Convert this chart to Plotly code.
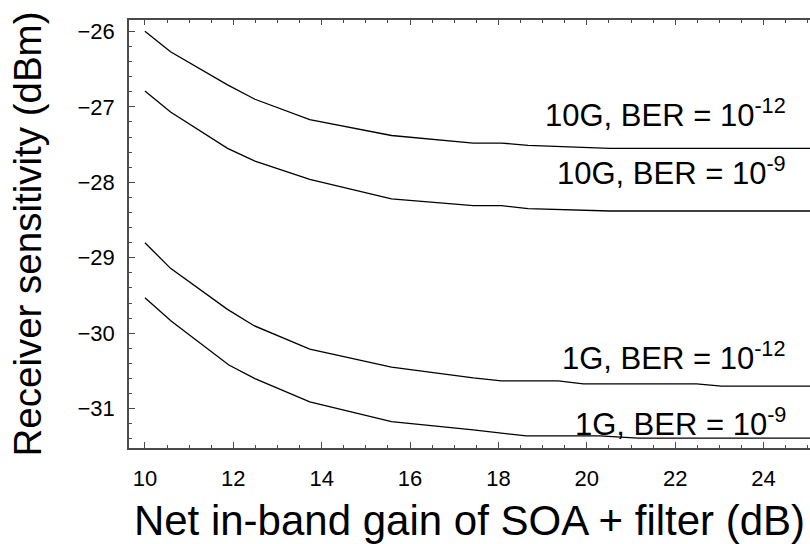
import plotly.graph_objects as go

# ---- data ----
x_10g = [10, 10.58, 11.87, 12.49, 13.73, 15.58, 17.43, 18.07, 18.67, 20.52, 25.05]
y_10g_ber12 = [-26.0, -26.27, -26.71, -26.90, -27.17, -27.38, -27.48, -27.48, -27.51, -27.55, -27.55]
y_10g_ber9 = [-26.79, -27.07, -27.55, -27.72, -27.96, -28.22, -28.31, -28.31, -28.35, -28.38, -28.38]

x_1g_ber12 = [10, 10.58, 11.86, 12.47, 13.73, 15.58, 17.43, 18.07, 19.35, 19.92, 22.48, 23.05, 25.05]
y_1g_ber12 = [-28.80, -29.14, -29.68, -29.90, -30.21, -30.45, -30.59, -30.63, -30.63, -30.67, -30.67, -30.70, -30.70]

x_1g_ber9 = [10, 10.6, 11.9, 12.49, 13.73, 15.58, 17.43, 18.63, 20.29, 21.16, 25.05]
y_1g_ber9 = [-29.53, -29.84, -30.42, -30.60, -30.91, -31.17, -31.28, -31.36, -31.36, -31.39, -31.39]

labels = ["10G, BER = 10<sup>-12</sup>", "10G, BER = 10<sup>-9</sup>",
          "1G, BER = 10<sup>-12</sup>", "1G, BER = 10<sup>-9</sup>"]
label_y = [-27.08, -27.85, -30.30, -31.17]
label_x = 24.55

x_ticks = [10, 12, 14, 16, 18, 20, 22, 24]
y_ticks = [-26, -27, -28, -29, -30, -31]

FONT = "Liberation Sans, Arial, sans-serif"
AXC = "#4a4a4a"

fig = go.Figure()
for xs, ys in [(x_10g, y_10g_ber12), (x_10g, y_10g_ber9),
               (x_1g_ber12, y_1g_ber12), (x_1g_ber9, y_1g_ber9)]:
    fig.add_trace(go.Scatter(x=xs, y=ys, mode="lines",
                             line=dict(color="black", width=1.3),
                             showlegend=False, hoverinfo="skip"))

for t, yy in zip(labels, label_y):
    fig.add_annotation(x=label_x, y=yy, text=t, showarrow=False,
                       xanchor="right", yanchor="middle",
                       font=dict(family=FONT, size=31, color="black"))

fig.update_layout(
    width=810, height=544,
    margin=dict(l=129, r=0, t=20, b=96),
    paper_bgcolor="white", plot_bgcolor="white",
    font=dict(family=FONT, color="black"),
    xaxis=dict(range=[9.64, 25.05], tickvals=x_ticks, ticks="inside",
               ticklen=6, tickwidth=1.3, tickcolor=AXC,
               showline=True, linecolor=AXC, linewidth=1.5,
               showgrid=False, zeroline=False, ticklabelstandoff=10,
               tickfont=dict(family=FONT, size=22, color="black"),
               minor=dict(dtick=0.5, ticks="inside", ticklen=3.5, tickcolor=AXC, tickwidth=1),
               title=dict(text="Net in-band gain of SOA + filter (dB)",
                          font=dict(family=FONT, size=42, color="black"), standoff=16)),
    xaxis2=dict(range=[9.64, 25.05], overlaying="x", side="top", matches="x",
                tickvals=x_ticks, ticks="inside", ticklen=5, tickwidth=1.3, tickcolor=AXC,
                showticklabels=False, showline=True, linecolor=AXC, linewidth=1.5,
                showgrid=False, zeroline=False,
                minor=dict(dtick=0.5, ticks="inside", ticklen=3, tickcolor=AXC, tickwidth=1)),
    yaxis=dict(range=[-31.52, -25.85], tickvals=y_ticks, ticks="inside",
               ticklen=6, tickwidth=1.3, tickcolor=AXC,
               showline=True, linecolor=AXC, linewidth=1.5,
               showgrid=False, zeroline=False, ticklabelstandoff=8,
               tickfont=dict(family=FONT, size=22, color="black"),
               minor=dict(dtick=0.2, ticks="inside", ticklen=3.5, tickcolor=AXC, tickwidth=1),
               title=dict(text="Receiver sensitivity (dBm)",
                          font=dict(family=FONT, size=38.5, color="black"), standoff=24)),
)
# invisible trace to activate the top axis
fig.add_trace(go.Scatter(x=[10], y=[-26], xaxis="x2", mode="markers",
                         marker=dict(opacity=0), showlegend=False, hoverinfo="skip"))

fig.write_html("out.html")
